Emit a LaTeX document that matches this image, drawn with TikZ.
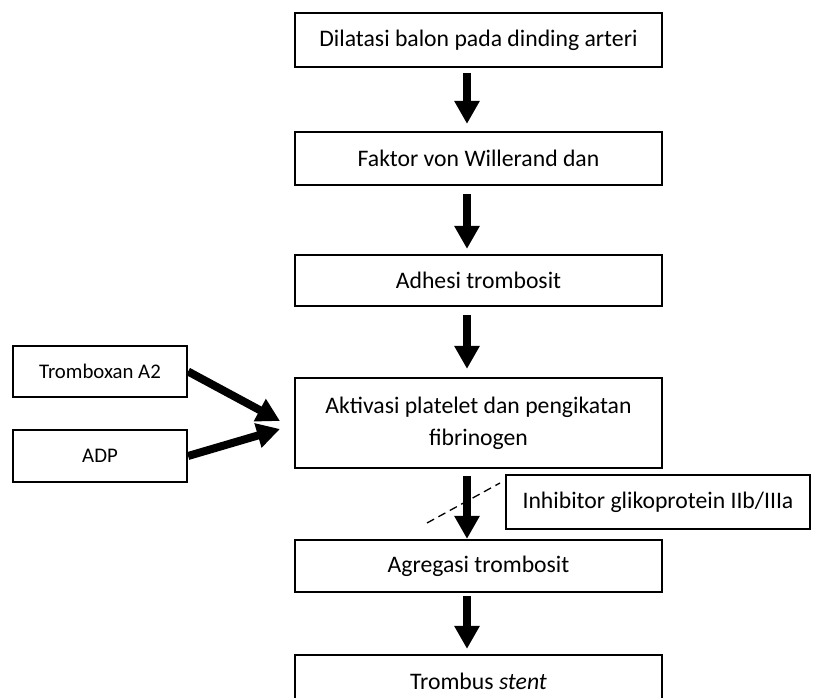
\documentclass[tikz,border=0pt]{standalone}
\usepackage{fontspec}
\setmainfont{Carlito}
\usetikzlibrary{arrows.meta,calc}
\begin{document}
\begin{tikzpicture}[x=1pt,y=-1pt,
  box/.style={draw,line width=2.2pt,minimum width=367pt,align=center,inner sep=0pt,
    font=\fontsize{23.7}{32}\selectfont},
  sbox/.style={draw,line width=2.2pt,minimum width=174pt,inner sep=0pt,
    font=\fontsize{20.8}{25}\selectfont},
  flow/.style={line width=8pt,-{Triangle[width=24pt,length=23pt]}},
  inhib/.style={dashed,line width=1.3pt,dash pattern=on 8pt off 5pt}]
\useasboundingbox (0,0) rectangle (815,698);
\node[box,minimum height=54pt] (b1) at (478.5,40) {Dilatasi balon pada dinding arteri};
\node[box,minimum height=53pt] (b2) at (478.5,158.5) {Faktor von Willerand dan};
\node[box,minimum height=51pt] (b3) at (478.5,280.5) {Adhesi trombosit};
\node[box,minimum height=90pt] (b4) at (478.5,423) {Aktivasi platelet dan pengikatan\\fibrinogen};
\node[box,minimum height=52pt] (b5) at (478.5,566) {Agregasi trombosit};
\node[box,minimum height=52pt] (b6) at (478.5,681) {Trombus \textit{stent}};
\node[sbox,minimum height=51pt] (tx) at (100,371.5) {Tromboxan A2};
\node[sbox,minimum height=52pt] (adp) at (100,456) {ADP};
\node[box,minimum width=304pt,minimum height=54pt] (inh) at (658,502) {Inhibitor glikoprotein IIb/IIIa};
\coordinate (ax) at (467,0);
\coordinate (t1) at (280,421);
\coordinate (t2) at (280,429);
\coordinate (d1) at (427,523);
\coordinate (d2) at (500,483);
\draw[flow,shorten <=5pt,shorten >=7pt] (b1.south -| ax) -- (b2.north -| ax);
\draw[flow,shorten <=8pt,shorten >=5pt] (b2.south -| ax) -- (b3.north -| ax);
\draw[flow,shorten <=8pt,shorten >=8pt] (b3.south -| ax) -- (b4.north -| ax);
\draw[flow,shorten <=7pt,shorten >=0pt] (b4.south -| ax) -- (b5.north -| ax);
\draw[flow,shorten <=3pt,shorten >=5pt] (b5.south -| ax) -- (b6.north -| ax);
\draw[flow] (tx.east) -- (t1);
\draw[flow] (adp.east) -- (t2);
\draw[inhib] (d1) -- (d2);
\end{tikzpicture}
\end{document}
